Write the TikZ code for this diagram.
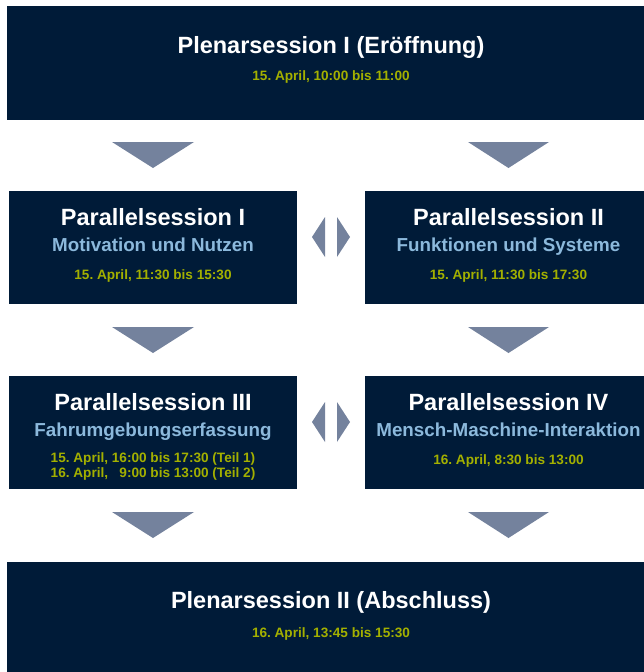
\documentclass[tikz,border=0pt]{standalone}
\usepackage{fontspec}
\setmainfont{Liberation Sans}
\frenchspacing
\definecolor{navy}{HTML}{001B38}
\definecolor{subblue}{HTML}{8CB9DC}
\definecolor{dateolive}{HTML}{A3B000}
\definecolor{arrowgray}{HTML}{74829D}
\tikzset{
  box/.style={fill=navy, draw=none, inner sep=0pt, anchor=north west},
  ttl/.style={text=white, font=\bfseries\fontsize{23.5}{27}\selectfont, anchor=base, inner sep=0pt},
  sub/.style={text=subblue, font=\bfseries\fontsize{18.8}{22}\selectfont, anchor=base, inner sep=0pt},
  dat/.style={text=dateolive, font=\bfseries\fontsize{13.6}{16}\selectfont, anchor=base, inner sep=0pt},
  arr/.style={fill=arrowgray, draw=none}
}
\begin{document}
\begin{tikzpicture}[x=1pt,y=-1pt]
\useasboundingbox (0,0) rectangle (644,672);
\clip (0,0) rectangle (644,672);
% boxes
\node[box, minimum width=648pt, minimum height=114pt] (p1) at (7,6) {};
\node[box, minimum width=288pt, minimum height=113pt] (s1) at (9,191) {};
\node[box, minimum width=287pt, minimum height=113pt] (s2) at (365,191) {};
\node[box, minimum width=288pt, minimum height=113pt] (s3) at (9,376) {};
\node[box, minimum width=287pt, minimum height=113pt] (s4) at (365,376) {};
\node[box, minimum width=648pt, minimum height=120pt] (p2) at (7,562) {};
% texts
\node[ttl] (p1t) at (331,53) {Plenarsession I (Eröffnung)};
\node[dat] (p1d) at (331,80) {15. April, 10:00 bis 11:00};
\node[ttl] (s1t) at (153,225) {Parallelsession I};
\node[sub] (s1s) at (153,251) {Motivation und Nutzen};
\node[dat] (s1d) at (153,279) {15. April, 11:30 bis 15:30};
\node[ttl] (s2t) at (508.5,225) {Parallelsession II};
\node[sub] (s2s) at (508.5,251) {Funktionen und Systeme};
\node[dat] (s2d) at (508.5,279) {15. April, 11:30 bis 17:30};
\node[ttl] (s3t) at (153,410) {Parallelsession III};
\node[sub] (s3s) at (153,436) {Fahrumgebungserfassung};
\node[dat] (s3d) at (153,462) {15. April, 16:00 bis 17:30 (Teil 1)};
\node[dat] (s3e) at (153,477) {16. April, \ \ 9:00 bis 13:00 (Teil 2)};
\node[ttl] (s4t) at (508.5,410) {Parallelsession IV};
\node[sub] (s4s) at (508.5,436) {Mensch-Maschine-Interaktion};
\node[dat] (s4d) at (508.5,464) {16. April, 8:30 bis 13:00};
\node[ttl] (p2t) at (331,608) {Plenarsession II (Abschluss)};
\node[dat] (p2d) at (331,637) {16. April, 13:45 bis 15:30};
% down arrows
\foreach \y in {142,327,512}{
  \fill[arr] (112,\y) -- (194,\y) -- (153,\y+26) -- cycle;
  \fill[arr] (468,\y) -- (549,\y) -- (508.5,\y+26) -- cycle;
}
% side double arrows
\foreach \y in {217,402}{
  \fill[arr] (325,\y) -- (325,\y+40) -- (312,\y+20) -- cycle;
  \fill[arr] (337,\y) -- (337,\y+40) -- (350,\y+20) -- cycle;
}
\end{tikzpicture}
\end{document}
